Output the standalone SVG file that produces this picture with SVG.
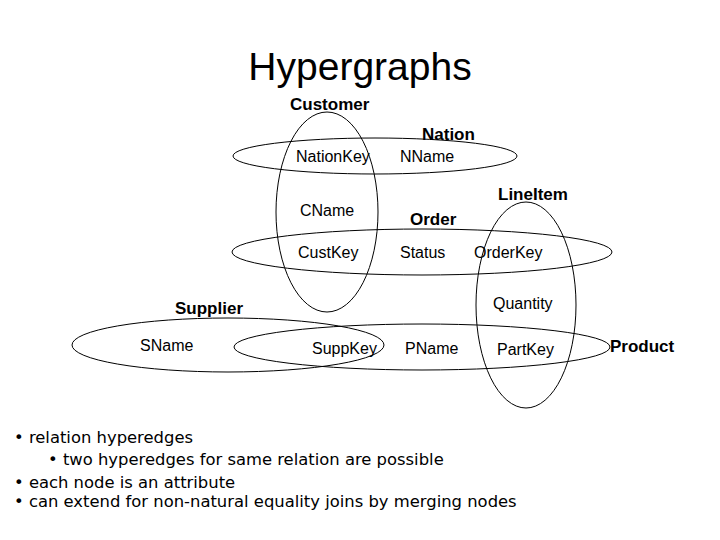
<svg xmlns="http://www.w3.org/2000/svg" width="720" height="540" viewBox="0 0 720 540">
<style>
.e{fill:none;stroke:#000;stroke-width:1}
.t{font-family:"Liberation Sans",Arial,sans-serif;font-size:16px;fill:#000}
.b{font-family:"Liberation Sans",Arial,sans-serif;font-size:17px;font-weight:bold;fill:#000}
.n{font-family:"DejaVu Sans",sans-serif;font-size:16.4px;fill:#000}
</style>
<rect width="720" height="540" fill="#fff"/>
<text x="360" y="80" text-anchor="middle" style="font-family:'Liberation Sans',Arial,sans-serif;font-size:39px">Hypergraphs</text>
<g id="edges">
<ellipse id="customer" class="e" cx="327" cy="212" rx="51" ry="100"/>
<ellipse id="nation" class="e" cx="375" cy="156" rx="142" ry="18"/>
<ellipse id="order" class="e" cx="422" cy="252" rx="190" ry="23"/>
<ellipse id="lineitem" class="e" cx="526" cy="305" rx="50" ry="103"/>
<ellipse id="supplier" class="e" cx="228" cy="345" rx="156" ry="27"/>
<ellipse id="product" class="e" cx="422" cy="347" rx="188" ry="23"/>
</g>
<g id="labels">
<text class="b" x="290" y="110">Customer</text>
<text class="b" x="422" y="140">Nation</text>
<text class="b" x="498" y="200">LineItem</text>
<text class="b" x="410" y="225">Order</text>
<text class="b" x="175" y="314">Supplier</text>
<text class="b" x="610" y="352">Product</text>
</g>
<g id="node-nationkey"><text class="t" x="296" y="162">NationKey</text></g>
<g id="node-nname"><text class="t" x="400" y="162">NName</text></g>
<g id="node-cname"><text class="t" x="300" y="216">CName</text></g>
<g id="node-custkey"><text class="t" x="298" y="258">CustKey</text></g>
<g id="node-status"><text class="t" x="400" y="258">Status</text></g>
<g id="node-orderkey"><text class="t" x="474" y="258">OrderKey</text></g>
<g id="node-quantity"><text class="t" x="493" y="309">Quantity</text></g>
<g id="node-sname"><text class="t" x="140" y="351">SName</text></g>
<g id="node-suppkey"><text class="t" x="312" y="354">SuppKey</text></g>
<g id="node-pname"><text class="t" x="405" y="354">PName</text></g>
<g id="node-partkey"><text class="t" x="497" y="355">PartKey</text></g>
<g id="notes">
<text class="n" x="14" y="443">• relation hyperedges</text>
<text class="n" x="48" y="465">• two hyperedges for same relation are possible</text>
<text class="n" x="14" y="488">• each node is an attribute</text>
<text class="n" x="14" y="507">• can extend for non-natural equality joins by merging nodes</text>
</g>
</svg>
